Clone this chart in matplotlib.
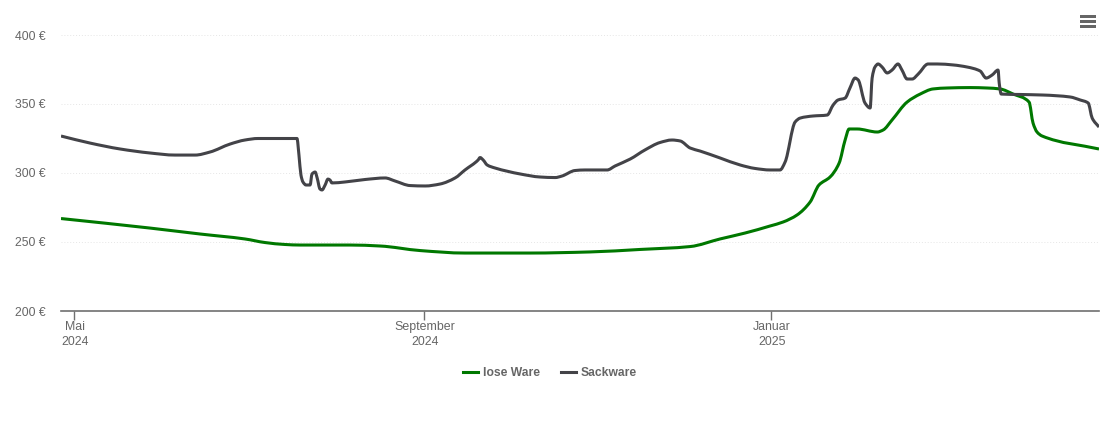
#price history, loose goods vs sacks
from matplotlib import pyplot as plt, dates
from matplotlib.lines import Line2D
from matplotlib.patches import PathPatch, Rectangle
from matplotlib.path import Path
from matplotlib.transforms import ScaledTranslation
import numpy as np
import pandas as pd

# days counted from 2024-05-01
sack_days = [-4.6, 5.6, 16.2, 26.7, 35.5, 42.6, 47.8, 54.9, 60.1, 64.7, 70.7, 78.4, 79.1, 79.8, 80.5, 81.6,
             83.0, 83.7, 84.8, 85.5, 86.5, 87.2, 88.3, 89.3, 90.0, 90.7, 95.3, 102.4, 109.4, 112.9, 118.2,
             123.5, 128.7, 134.0, 137.5, 142.1, 142.8, 143.9, 145.3, 148.1, 156.9, 163.9, 169.2, 171.6,
             176.2, 179.7, 187.5, 190.3, 195.6, 200.8, 206.1, 210.3, 213.2, 216.7, 220.2, 227.2, 234.3,
             239.5, 244.8, 248.3, 250.1, 253.6, 255.4, 259.9, 264.9, 267.0, 268.7, 271.2, 272.9, 274.7,
             275.8, 278.2, 280.0, 280.7, 281.7, 282.8, 284.2, 286.0, 287.7, 289.8, 291.2, 293.0, 294.8,
             296.9, 300.4, 303.6, 309.2, 314.1, 318.7, 320.8, 322.9, 325.0, 325.4, 326.1, 332.7, 340.8,
             350.3, 353.9, 356.7, 358.1, 360.5]
sack_prices = [326.8, 321.7, 317.4, 314.5, 313.0, 313.0, 315.2, 321.0, 323.9, 325.0, 325.0, 325.0, 313.0, 298.5, 293.5, 291.3,
               291.3, 299.3, 300.7, 296.4, 288.4, 287.7, 291.3, 295.6, 294.9, 292.8, 293.5, 295.3, 296.4, 294.2, 290.9,
               290.6, 292.0, 296.4, 302.2, 309.4, 311.2, 309.4, 305.8, 303.6, 299.3, 297.1, 296.7, 297.8,
               301.8, 302.2, 302.2, 305.1, 310.1, 316.7, 322.1, 323.9, 323.2, 318.1, 315.9, 310.9, 305.8,
               303.3, 302.2, 302.2, 308.0, 336.9, 339.8, 341.3, 342.0, 349.3, 352.9, 354.3, 361.6, 368.8,
               367.4, 350.7, 347.1, 368.8, 376.8, 379.0, 376.8, 372.5, 374.6, 379.0, 374.6, 368.1, 368.1,
               371.7, 379.0, 379.0, 378.3, 376.8, 373.9, 368.8, 371.0, 374.6, 365.2, 357.2, 356.9, 356.5,
               355.1, 352.9, 350.7, 339.8, 333.3]

loose_days = [-4.6, 26.7, 44.3, 60.1, 67.2, 74.2, 79.5, 97.1, 107.6, 121.7, 137.5, 160.4, 181.5, 199.1, 216.7,
              227.2, 236.0, 244.8, 249.4, 254.3, 258.9, 262.0, 265.9, 269.1, 271.2, 272.6, 275.4, 282.5, 284.6,
              287.7, 293.0, 297.6, 302.1, 307.1, 315.2, 321.1, 325.7, 330.3, 335.9, 337.3, 338.7, 340.5, 360.5]
loose_prices = [267.0, 260.1, 255.8, 252.2, 249.6, 248.2, 247.8, 247.8, 247.1, 243.8, 242.0, 242.0, 242.8, 244.6, 246.7,
                252.2, 256.5, 261.6, 264.5, 269.6, 279.0, 291.3, 297.1, 307.2, 323.9, 331.9, 331.9, 329.7, 331.2,
                338.4, 351.4, 357.2, 360.9, 361.6, 361.9, 361.6, 360.9, 357.2, 351.4, 336.2, 329.7, 326.8, 317.4]

y_ticks = [200, 250, 300, 350, 400]
x_ticks = ["2024-05-01", "2024-09-01", "2025-01-01"]
x_labels = ["Mai\n2024", "September\n2024", "Januar\n2025"]

GREEN = "#007800"
GREY = "#434348"


def spline_path(when, prices):
    # bezier through the points, slopes flatten at peaks so it doesn't overshoot
    x = dates.date2num(when)
    y = np.array(prices, dtype=float)
    dx = np.diff(x)
    sec = np.diff(y) / dx
    m = np.zeros(len(x))
    m[0], m[-1] = sec[0], sec[-1]
    for i in range(1, len(x) - 1):
        if sec[i - 1] * sec[i] > 0:
            w1 = 2 * dx[i] + dx[i - 1]
            w2 = dx[i] + 2 * dx[i - 1]
            m[i] = (w1 + w2) / (w1 / sec[i - 1] + w2 / sec[i])
    verts = [(x[0], y[0])]
    codes = [Path.MOVETO]
    for i in range(len(dx)):
        verts.append((x[i] + dx[i] / 3, y[i] + m[i] * dx[i] / 3))
        verts.append((x[i + 1] - dx[i] / 3, y[i + 1] - m[i + 1] * dx[i] / 3))
        verts.append((x[i + 1], y[i + 1]))
        codes += [Path.CURVE4] * 3
    return Path(verts, codes)


start = pd.Timestamp("2024-05-01")
sack_dates = start + pd.to_timedelta(sack_days, unit="D")
loose_dates = start + pd.to_timedelta(loose_days, unit="D")

plt.rcParams["font.family"] = ["Liberation Sans", "DejaVu Sans"]
W, H = 1110, 422
fig = plt.figure(figsize=(W / 100, H / 100), dpi=100)
ax = fig.add_axes([61 / W, (H - 311) / H, (1099 - 61) / W, (311 - 35) / H])

ax.add_patch(PathPatch(spline_path(loose_dates, loose_prices), fill=False, edgecolor=GREEN, lw=2.2,
                       joinstyle="round", zorder=3))
ax.add_patch(PathPatch(spline_path(sack_dates, sack_prices), fill=False, edgecolor=GREY, lw=2.2,
                       joinstyle="round", zorder=3))

ax.xaxis_date()
ax.set_xlim(sack_dates[0], sack_dates[-1])
ax.set_ylim(200, 400)

ax.set_yticks(y_ticks)
ax.set_yticklabels([f"{v} €" for v in y_ticks])
ax.set_xticks(pd.to_datetime(x_ticks))
ax.set_xticklabels(x_labels, linespacing=1.25)
ax.tick_params(axis="y", length=0, pad=10.8, labelsize=8.8, labelcolor="#666666")
ax.tick_params(axis="x", length=6.5, width=1, color="#707070", pad=1, labelsize=8.9, labelcolor="#666666")
for lab in ax.get_xticklabels():
    lab.set_transform(lab.get_transform() + ScaledTranslation(1 / 100, 0, fig.dpi_scale_trans))

ax.grid(axis="y", color="#e6e6e6", lw=0.7, ls=(0, (1, 2)))
ax.set_axisbelow(True)
for side in ["top", "left", "right"]:
    ax.spines[side].set_visible(False)
ax.spines["bottom"].set_color("#707070")
ax.spines["bottom"].set_linewidth(1.2)

handles = [Line2D([], [], color=GREEN, lw=2.2), Line2D([], [], color=GREY, lw=2.2)]
fig.legend(handles, ["lose Ware", "Sackware"], loc="center", bbox_to_anchor=(550 / W, (H - 373) / H), ncol=2,
           frameon=False, prop={"size": 8.7, "weight": "bold"}, labelcolor="#666666", handlelength=1.25,
           handletextpad=0.42, columnspacing=1.72)

# menu icon top right
for y in [15, 20, 25]:
    fig.add_artist(Rectangle((1080 / W, (H - y - 3) / H), 16 / W, 3 / H, transform=fig.transFigure,
                             color="#666666", lw=0))

fig.savefig("out.png", dpi=100)
